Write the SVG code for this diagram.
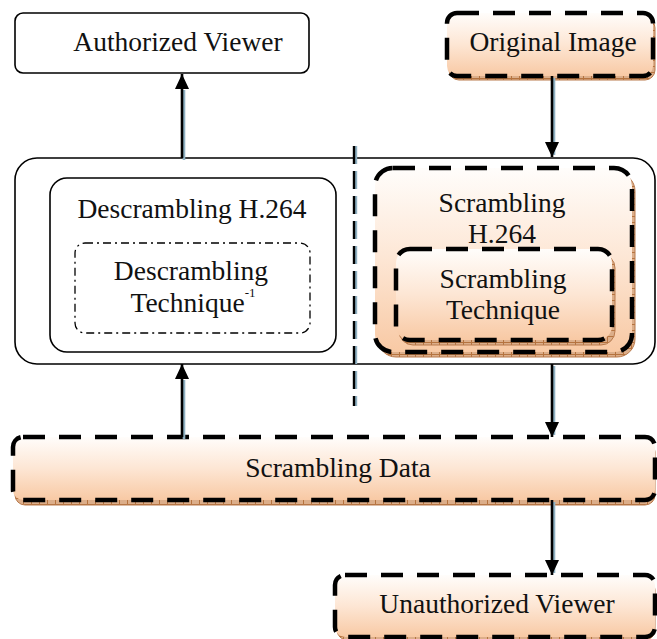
<svg xmlns="http://www.w3.org/2000/svg" width="657" height="639" viewBox="0 0 657 639">
  <style>
    .lbl { font-family: "Liberation Serif", "Times New Roman", serif; font-size: 27.5px; fill: #111; text-anchor: middle; }
    .plain { fill: #fff; stroke: #000; stroke-width: 1.6; }
    .peach { fill: url(#peachFill); stroke: #000; stroke-width: 4.5; stroke-dasharray: 22 14; }
    .shade { fill: url(#hatch); stroke: #b97a4c; stroke-width: 1; }
    .dashdot { fill: none; stroke: #000; stroke-width: 1.3; stroke-dasharray: 8 4 2 4; }
    .wire { fill: none; stroke: #000; stroke-width: 2.6; }
    .wire-shadow { fill: none; stroke: #8fb1c2; stroke-width: 2.6; }
    .divider { fill: none; stroke: #000; stroke-width: 2.4; stroke-dasharray: 18 7; }
    .divider-shadow { fill: none; stroke: #8fb1c2; stroke-width: 2.4; stroke-dasharray: 18 7; }
  </style>
  <defs>
    <linearGradient id="peachFill" x1="0" y1="0" x2="0" y2="1">
      <stop offset="0" stop-color="#fffdfb"/>
      <stop offset="0.5" stop-color="#fde6d4"/>
      <stop offset="1" stop-color="#f8c9a4"/>
    </linearGradient>
    <pattern id="hatch" width="8" height="6" patternUnits="userSpaceOnUse">
      <rect width="8" height="6" fill="#dcae8a"/>
      <path d="M0 0.5H8M7.5 0V6" stroke="#b5733f" stroke-width="1"/>
    </pattern>
    <marker id="head" markerUnits="userSpaceOnUse" markerWidth="16" markerHeight="16" refX="15" refY="7" orient="auto">
      <path d="M0 0L15 7L0 14Z" fill="#000"/>
    </marker>
  </defs>

  <!-- top row -->
  <g id="authorized-viewer">
    <rect class="plain" x="15" y="13" width="294" height="60" rx="8"/>
    <text class="lbl" x="178" y="51">Authorized Viewer</text>
  </g>
  <g id="original-image">
    <rect class="shade" x="449" y="18" width="206" height="62" rx="10"/>
    <rect class="peach" x="447" y="13" width="206" height="63" rx="10"/>
    <text class="lbl" x="553" y="51">Original Image</text>
  </g>

  <!-- processing block -->
  <g id="processing">
    <rect class="plain" x="15" y="158" width="640" height="206" rx="22"/>
  </g>
  <g id="descrambling-h264">
    <rect class="plain" x="50" y="178" width="286" height="174" rx="17"/>
    <text class="lbl" x="192" y="218">Descrambling H.264</text>
  </g>
  <g id="descrambling-technique">
    <rect class="dashdot" x="75" y="243" width="235" height="90" rx="10"/>
    <text class="lbl" x="191" y="280">Descrambling</text>
    <text class="lbl" x="193" y="312">Technique<tspan font-size="13" dy="-15">-1</tspan></text>
  </g>
  <g id="scrambling-h264">
    <rect class="shade" x="378" y="173" width="257" height="184" rx="18"/>
    <rect class="peach" x="375" y="168" width="257" height="184" rx="18"/>
    <text class="lbl" x="502" y="212">Scrambling</text>
    <text class="lbl" x="502" y="243">H.264</text>
  </g>
  <g id="scrambling-technique">
    <rect class="shade" x="399" y="254" width="216" height="91" rx="14"/>
    <rect class="peach" x="396" y="249" width="216" height="91" rx="14"/>
    <text class="lbl" x="503" y="288">Scrambling</text>
    <text class="lbl" x="503" y="319">Technique</text>
  </g>

  <!-- bottom rows -->
  <g id="scrambling-data">
    <rect class="shade" x="15" y="442" width="640" height="63" rx="10"/>
    <rect class="peach" x="13" y="437" width="642" height="63" rx="10"/>
    <text class="lbl" x="338" y="477">Scrambling Data</text>
  </g>
  <g id="unauthorized-viewer">
    <rect class="shade" x="337" y="580" width="318" height="60" rx="10"/>
    <rect class="peach" x="335" y="575" width="320" height="62" rx="10"/>
    <text class="lbl" x="497" y="613">Unauthorized Viewer</text>
  </g>

  <!-- separator between receiver and sender sides -->
  <g id="separator">
    <line class="divider-shadow" x1="356" y1="146" x2="356" y2="406"/>
    <line class="divider" x1="354" y1="146" x2="354" y2="406"/>
  </g>

  <!-- connectors -->
  <g id="connectors">
    <line class="wire-shadow" x1="184" y1="160" x2="184" y2="90"/>
    <line class="wire" x1="182" y1="158" x2="182" y2="74" marker-end="url(#head)"/>
    <line class="wire-shadow" x1="184" y1="439" x2="184" y2="380"/>
    <line class="wire" x1="182" y1="437" x2="182" y2="364" marker-end="url(#head)"/>
    <line class="wire-shadow" x1="554" y1="78" x2="554" y2="155"/>
    <line class="wire" x1="552" y1="76" x2="552" y2="157" marker-end="url(#head)"/>
    <line class="wire-shadow" x1="554" y1="366" x2="554" y2="435"/>
    <line class="wire" x1="552" y1="364" x2="552" y2="437" marker-end="url(#head)"/>
    <line class="wire-shadow" x1="554" y1="502" x2="554" y2="573"/>
    <line class="wire" x1="552" y1="500" x2="552" y2="575" marker-end="url(#head)"/>
  </g>
</svg>
